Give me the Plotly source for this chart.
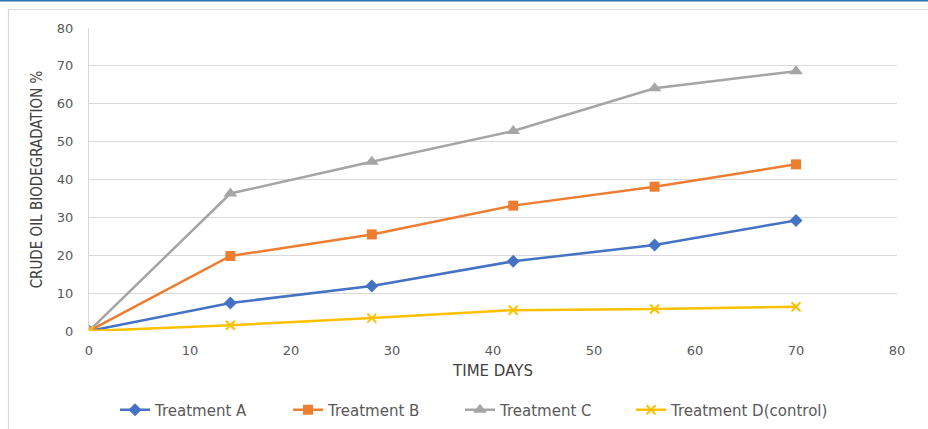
import plotly.graph_objects as go

days = [0, 14, 28, 42, 56, 70]
treatment_a = [0, 7.4, 11.9, 18.4, 22.7, 29.2]
treatment_b = [0, 19.8, 25.5, 33.1, 38.1, 44.0]
treatment_c = [0, 36.3, 44.7, 52.8, 64.1, 68.6]
treatment_d = [0, 1.5, 3.4, 5.5, 5.8, 6.4]

series = [
    ("Treatment A", treatment_a, "#4472C4", "diamond", 10),
    ("Treatment B", treatment_b, "#ED7D31", "square", 10),
    ("Treatment C", treatment_c, "#A5A5A5", "triangle-up", 12),
    ("Treatment D(control)", treatment_d, "#FFC000", "x-thin", 9),
]
legend_left_px = [116, 289, 461, 632]

WIDE = "DejaVu Sans, Verdana, sans-serif"
NARROW = "Liberation Sans Narrow, DejaVu Sans Condensed, Arial Narrow, sans-serif"
GREY = "#595959"

W, H = 928, 429
ml, mr, mt, mb = 89, 31, 28, 98
pw, ph = W - ml - mr, H - mt - mb

def px_x(p):
    return (p - ml) / pw

def px_y(p):
    return 1 - (p - mt) / ph

fig = go.Figure()
legends = {}
for i, (name, vals, color, sym, size) in enumerate(series):
    lname = "legend" if i == 0 else f"legend{i + 1}"
    fig.add_trace(go.Scatter(
        x=days, y=vals, name=name, mode="lines+markers", legend=lname,
        line=dict(color=color, width=2.5),
        marker=dict(symbol=sym, size=size, color=color,
                    line=dict(color=color, width=2 if sym == "x-thin" else 0)),
    ))
    legends[lname] = dict(
        orientation="h", xref="container", yref="container",
        x=(legend_left_px[i] - 1) / W, xanchor="left",
        y=1 - 410 / H, yanchor="middle",
        font=dict(family=WIDE, size=15, color=GREY), bgcolor="rgba(0,0,0,0)",
    )

fig.update_layout(
    width=W, height=H,
    margin=dict(l=ml, r=mr, t=mt, b=mb, autoexpand=False),
    paper_bgcolor="white", plot_bgcolor="white",
    font=dict(family=WIDE, size=13, color=GREY),
    xaxis=dict(range=[0, 80], dtick=10, showgrid=False, zeroline=False, automargin=False,
               showline=False, ticks="", ticklabelstandoff=10,
               tickfont=dict(family=WIDE, size=13, color=GREY),
               title=dict(text="TIME DAYS", font=dict(family=WIDE, size=15, color="#404040"), standoff=8)),
    yaxis=dict(range=[0, 80], dtick=10, showgrid=True, gridcolor="#D9D9D9", gridwidth=1,
               zeroline=False, showline=True, linecolor="#D9D9D9", linewidth=1, automargin=False,
               ticks="", ticklabelstandoff=12,
               tickfont=dict(family=WIDE, size=13, color=GREY),
               title=dict(text="CRUDE OIL BIODEGRADATION %", font=dict(family=NARROW, size=15, color="#404040"), standoff=10)),
    showlegend=True,
    shapes=[
        dict(type="line", xref="paper", yref="paper", x0=px_x(0), x1=px_x(W), y0=px_y(0.7), y1=px_y(0.7),
             line=dict(color="#2E75B6", width=1.5)),
        dict(type="rect", xref="paper", yref="paper", x0=px_x(8.5), x1=px_x(W + 5), y0=px_y(9.5), y1=px_y(H + 5),
             line=dict(color="#D9D9D9", width=1.2), layer="below"),
    ],
    **legends,
)

fig.write_html("out.html")
